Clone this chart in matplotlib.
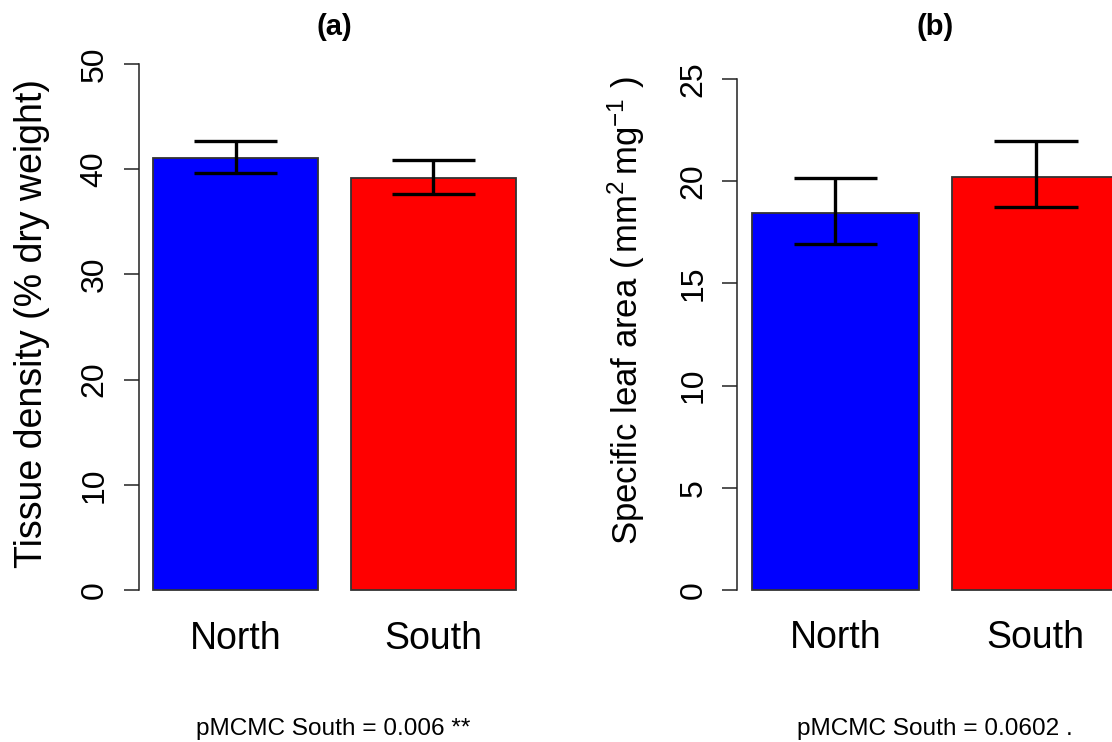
import numpy as np
import matplotlib
matplotlib.use("Agg")
import matplotlib.pyplot as plt

plt.rcParams['font.family'] = ['Liberation Sans', 'DejaVu Sans']
plt.rcParams['mathtext.fontset'] = 'custom'
plt.rcParams['mathtext.rm'] = 'Liberation Sans'
plt.rcParams['mathtext.it'] = 'Liberation Sans'

# data
regions = ["North", "South"]
colors = ["#0000ff", "#ff0000"]

density_mean = [41.1, 39.15]
density_lo = [39.64, 37.67]
density_hi = [42.68, 40.87]

sla_mean = [18.43, 20.19]
sla_lo = [16.94, 18.72]
sla_hi = [20.17, 21.95]

W, H = 1112, 742
fig = plt.figure(figsize=(W / 100, H / 100), dpi=100)


def px_axes(x0, x1, ytop, ybot):
    # axes rectangle given in pixel coordinates of the figure
    return fig.add_axes([x0 / W, 1 - ybot / H, (x1 - x0) / W, (ybot - ytop) / H])


def barpanel(ax, means, lo, hi, ymax, step):
    x = 0.7 + 1.2 * np.arange(len(means))
    ax.bar(x, means, width=1.0, color=colors, edgecolor="#333333", linewidth=1.3)
    for xi, l, h in zip(x, lo, hi):
        ax.plot([xi, xi], [l, h], color="black", lw=2.4, solid_capstyle="butt")
        ax.plot([xi - 0.25, xi + 0.25], [h, h], color="black", lw=2.4, solid_capstyle="butt")
        ax.plot([xi - 0.25, xi + 0.25], [l, l], color="black", lw=2.4, solid_capstyle="butt")
    ax.set_xlim(0.112, 2.488)
    ax.set_ylim(-0.04 * ymax, 1.04 * ymax)
    for s in ["top", "right", "bottom"]:
        ax.spines[s].set_visible(False)
    ax.spines["left"].set_bounds(0, ymax)
    ax.spines["left"].set_linewidth(1.1)
    ax.spines["left"].set_color("#222222")
    ax.set_yticks(np.arange(0, ymax + 0.1, step))
    ax.tick_params(axis="y", length=10.8, width=1.1, color="#222222",
                   labelsize=23, pad=10, labelrotation=90)
    for t in ax.get_yticklabels():
        t.set_va("center")
    ax.set_xticks(x, regions)
    ax.tick_params(axis="x", length=0, labelsize=27, pad=7)


ax1 = px_axes(138.5, 530.5, 64 - 2 * 10.52, 590 + 2 * 10.52)
barpanel(ax1, density_mean, density_lo, density_hi, 50, 10)

ax2 = px_axes(737.3, 1134, 79 - 20.44, 590 + 20.44)
barpanel(ax2, sla_mean, sla_lo, sla_hi, 25, 5)

fig.text(42 / W, 1 - 323.5 / H, "Tissue density (% dry weight)", rotation=90,
         rotation_mode="anchor", ha="center", va="baseline", fontsize=27)
fig.text(638 / W, 1 - 311 / H, r"Specific leaf area ($\,$mm$^2\,$mg$^{-1}$ )", rotation=90,
         rotation_mode="anchor", ha="center", va="baseline", fontsize=25)

fig.text(334 / W, 1 - 35 / H, "(a)", ha="center", va="baseline", fontsize=21, fontweight="bold")
fig.text(935 / W, 1 - 35 / H, "(b)", ha="center", va="baseline", fontsize=21, fontweight="bold")

fig.text(333 / W, 1 - 735 / H, "pMCMC South = 0.006 **", ha="center", va="baseline", fontsize=17.6)
fig.text(935 / W, 1 - 735 / H, "pMCMC South = 0.0602 .", ha="center", va="baseline", fontsize=17.6)

fig.savefig("out.png", dpi=100)
